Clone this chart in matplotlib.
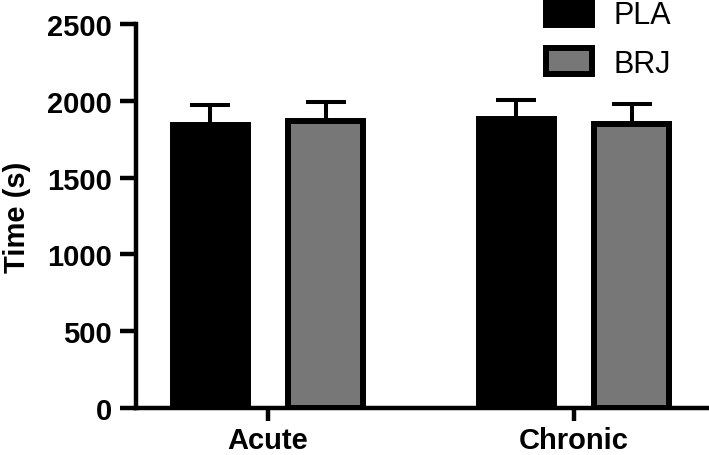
import numpy as np
import matplotlib
matplotlib.use("Agg")
import matplotlib.pyplot as plt

plt.rcParams['font.family'] = ['Liberation Sans', 'DejaVu Sans']

# data
groups = ["Acute", "Chronic"]
series = ["PLA", "BRJ"]
pla_mean = [1844, 1880]
pla_sem = [129, 125]
brj_mean = [1866, 1847]
brj_sem = [128, 130]
colors = ["#000000", "#777777"]
yticks = [0, 500, 1000, 1500, 2000, 2500]

fig = plt.figure(figsize=(7.09, 4.56), dpi=100)
ax = fig.add_axes([136 / 709, 1 - 409 / 456, 1 - 136 / 709, (409 - 25) / 456])

x = np.arange(len(groups))
offset = 0.188
width = 0.248
lw = 4.3

for i, (means, sems) in enumerate([(pla_mean, pla_sem), (brj_mean, brj_sem)]):
    pos = x + (i * 2 - 1) * offset
    ax.errorbar(pos, means, yerr=[np.zeros(len(sems)), sems], fmt='none',
                ecolor='black', elinewidth=2.9, capsize=14.5, capthick=2.9, zorder=1)
    ax.bar(pos, means, width=width, color=colors[i], edgecolor='black',
           linewidth=lw, label=series[i], zorder=2)

ax.set_xlim((136 - 268) / 306, (709 - 268) / 306)
ax.set_ylim(0, 2500)
ax.set_yticks(yticks)
ax.set_xticks(x)
ax.set_xticklabels(groups)

for s in ['top', 'right']:
    ax.spines[s].set_visible(False)
for s in ['left', 'bottom']:
    ax.spines[s].set_linewidth(3.2)

ax.tick_params(axis='y', length=11.5, width=3.2, pad=6, labelsize=21)
ax.tick_params(axis='x', length=9, width=3.2, pad=4, labelsize=21)
for lab in ax.get_xticklabels() + ax.get_yticklabels():
    lab.set_fontweight('bold')

ax.set_ylabel("Time (s)", fontsize=21, fontweight='bold')
ax.yaxis.set_label_coords(-0.183, 0.5)

fig.legend(loc='upper left', bbox_to_anchor=(546 / 709, 1.0), frameon=False,
           fontsize=22, handlelength=1.5, handleheight=0.95, labelspacing=0.6,
           handletextpad=0.7, borderpad=0, borderaxespad=0)

fig.savefig("out.png", dpi=100)
